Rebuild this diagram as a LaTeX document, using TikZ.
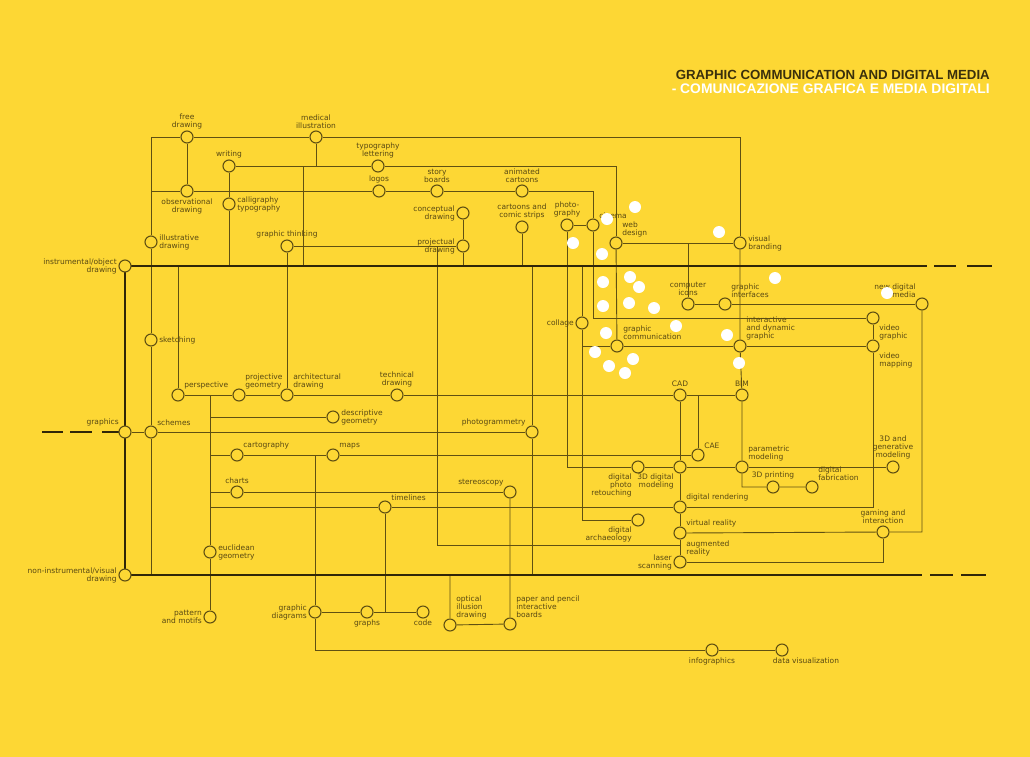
\documentclass[tikz,border=0pt]{standalone}
\usepackage{fontspec}
\setmainfont{DejaVu Sans}
\newfontfamily\titlefont{Liberation Sans}
\usetikzlibrary{backgrounds}
\definecolor{bgyellow}{RGB}{253,215,52}
\definecolor{lineol}{RGB}{96,80,18}
\definecolor{thickol}{RGB}{48,38,8}
\definecolor{labelol}{RGB}{88,72,18}
\definecolor{titleol}{RGB}{58,48,12}
\begin{document}
\begin{tikzpicture}[x=1pt,y=-1pt,
    stn/.style={circle,draw=lineol,fill=bgyellow,line width=1.1pt,minimum size=12pt,inner sep=0pt},
    ln/.style={draw=lineol,line width=0.9pt},
    thk/.style={draw=thickol,line width=2.6pt},
    every label/.style={font=\fontsize{7.5}{8}\selectfont,text=labelol,align=center,inner sep=1.5pt}]
    \useasboundingbox (0,0) rectangle (1030,756);
    % title
    \node[anchor=north east,inner sep=0pt,text=titleol,font=\titlefont\bfseries] (title) at (990,70) {\resizebox{314pt}{!}{GRAPHIC COMMUNICATION AND DIGITAL MEDIA}};
    \node[anchor=north east,inner sep=0pt,text=white,font=\titlefont\bfseries] (subtitle) at (990,84) {\resizebox{318pt}{!}{- COMUNICAZIONE GRAFICA E MEDIA DIGITALI}};
    % main stations
    \node[stn,label={[align=right]left:instrumental/object\\drawing}] (instr) at (125,266) {};
    \node[stn,label={above left:graphics}] (graph) at (125,432) {};
    \node[stn,label={[align=right]left:non-instrumental/visual\\drawing}] (nonin) at (125,575) {};
    % upper area
    \node[stn,label={above:free\\drawing}] (freed) at (187,137) {};
    \node[stn,label={above:medical\\illustration}] (medic) at (316,137) {};
    \node[stn,label={above:writing}] (writ) at (229,166) {};
    \node[stn,label={above:typography\\lettering}] (typo) at (378,166) {};
    \node[stn,label={below:observational\\drawing}] (obsd) at (187,191) {};
    \node[stn,label={above:logos}] (logos) at (379,191) {};
    \node[stn,label={above:story\\boards}] (story) at (437,191) {};
    \node[stn,label={above:animated\\cartoons}] (anim) at (522,191) {};
    \node[stn,label={[align=left]right:calligraphy\\typography}] (calli) at (229,204) {};
    \node[stn,label={[align=left]right:illustrative\\drawing}] (illus) at (151,242) {};
    \node[stn,label={above:graphic thinking}] (gthink) at (287,246) {};
    \node[stn,label={[align=right]left:conceptual\\drawing}] (techd) at (463,213) {};
    \node[stn,label={[align=right]left:projectual\\drawing}] (projd) at (463,246) {};
    \node[stn,label={above:cartoons and\\comic strips}] (comic) at (522,227) {};
    \node[stn,label={above:photo-\\graphy}] (photo) at (567,225) {};
    \node[stn,label={above right:cinema}] (cine) at (593,225) {};
    \node[stn,label={[align=left]above right:web\\design}] (web) at (616,243) {};
    \node[stn,label={[align=left]right:visual\\branding}] (brand) at (740,243) {};
    % digital area
    \node[stn,label={above:computer\\icons}] (icons) at (688,304) {};
    \node[stn,label={[align=left]above right:graphic\\interfaces}] (gui) at (725,304) {};
    \node[stn,label={[align=right]above left:new digital\\media}] (newdm) at (922,304) {};
    \node[stn,label={left:collage}] (collage) at (582,323) {};
    \node[stn,label={[align=left]above right:graphic\\communication}] (gcom) at (617,346) {};
    \node[stn,label={[align=left]above right:interactive\\and dynamic\\graphic}] (inter) at (740,346) {};
    \node[stn,label={[align=left]below right:video\\graphic}] (vgraph) at (873,318) {};
    \node[stn,label={[align=left]below right:video\\mapping}] (vmap) at (873,346) {};
    \node[stn,label={above:CAD}] (cad) at (680,395) {};
    \node[stn,label={above:BIM}] (bim) at (742,395) {};
    \node[stn,label={above right:CAE}] (cae) at (698,455) {};
    % geometry and graphics
    \node[stn,label={above right:perspective}] (persp) at (178,395) {};
    \node[stn,label={[align=left]above right:projective\\geometry}] (projg) at (239,395) {};
    \node[stn,label={[align=left]above right:architectural\\drawing}] (archd) at (287,395) {};
    \node[stn,label={above:technical\\drawing}] (techdr) at (397,395) {};
    \node[stn,label={[align=left]right:descriptive\\geometry}] (descg) at (333,417) {};
    \node[stn,label={above left:photogrammetry}] (photog) at (532,432) {};
    \node[stn,label={right:sketching}] (sketch) at (151,340) {};
    \node[stn,label={above right:schemes}] (schem) at (151,432) {};
    \node[stn,label={above right:cartography}] (carto) at (237,455) {};
    \node[stn,label={above right:maps}] (maps) at (333,455) {};
    \node[stn,label={above:charts}] (charts) at (237,492) {};
    \node[stn,label={above right:timelines}] (timel) at (385,507) {};
    \node[stn,label={above left:stereoscopy}] (stereo) at (510,492) {};
    \node[stn,label={[align=left]right:euclidean\\geometry}] (eucl) at (210,552) {};
    \node[stn,label={[align=right]left:pattern\\and motifs}] (patt) at (210,617) {};
    \node[stn,label={[align=right]left:graphic\\diagrams}] (gdiag) at (315,612) {};
    \node[stn,label={below:graphs}] (graphs) at (367,612) {};
    \node[stn,label={below:code}] (code) at (423,612) {};
    \node[stn,label={[align=left]above right:optical\\illusion\\drawing}] (optic) at (450,625) {};
    \node[stn,label={[align=left]above right:paper and pencil\\interactive\\boards}] (paper) at (510,624) {};
    \node[stn,label={below:infographics}] (infog) at (712,650) {};
    \node[stn,label={[xshift=24pt]below:data visualization}] (datav) at (782,650) {};
    % digital production
    \node[stn,label={[align=right]below left:digital\\photo\\retouching}] (dphoto) at (638,467) {};
    \node[stn,label={[align=right]below left:3D digital\\modeling}] (d3mod) at (680,467) {};
    \node[stn,label={[align=left]above right:parametric\\modeling}] (param) at (742,467) {};
    \node[stn,label={above:3D printing}] (print) at (773,487) {};
    \node[stn,label={[align=left]above right:digital\\fabrication}] (dfab) at (812,487) {};
    \node[stn,label={above:3D and\\generative\\modeling}] (gener) at (893,467) {};
    \node[stn,label={above right:digital rendering}] (drend) at (680,507) {};
    \node[stn,label={above right:virtual reality}] (virt) at (680,533) {};
    \node[stn,label={[align=left]above right:augmented\\reality},label={[align=right]left:laser\\scanning}] (augm) at (680,562) {};
    \node[stn,label={[align=right]below left:digital\\archaeology}] (darch) at (638,520) {};
    \node[stn,label={above:gaming and\\interaction}] (gaming) at (883,532) {};
    % free ends
    \coordinate (topR) at (927,266);
    \coordinate (topE) at (992,266);
    \coordinate (botR) at (922,575);
    \coordinate (botE) at (986,575);
    \coordinate (grL) at (42,432);
    \coordinate (v303) at (303,166);
    \coordinate (v437) at (437,246);
    \coordinate (c545) at (437,545);
    \begin{pgfonlayer}{background}
        \fill[bgyellow] (-20,-20) rectangle (1050,776);
        % thin lines
        \draw[ln] (illus |- freed) -- (freed) -- (medic) -| (brand);
        \draw[ln] (illus |- freed) -- (illus) -- (sketch) -- (schem) -- (schem |- nonin);
        \draw[ln] (medic) -- (medic |- writ);
        \draw[ln] (writ) -- (typo) -| (web);
        \draw[ln] (web) -- (gcom);
        \draw[ln] (writ) -- (calli) -- (calli |- instr);
        \draw[ln] (v303) -- (v303 |- instr);
        \draw[ln] (illus |- obsd) -- (obsd) -- (logos) -- (story) -- (anim) -| (cine);
        \draw[ln] (freed) -- (obsd);
        \draw[ln] (gthink) -- (projd);
        \draw[ln] (techd) -- (projd) -- (projd |- instr);
        \draw[ln] (gthink) -- (archd);
        \draw[ln] (comic) -- (comic |- instr);
        \draw[ln] (photo) -- (cine);
        \draw[ln] (photo) |- (dphoto) -- (d3mod) -- (param) -- (gener);
        \draw[ln] (cine) |- (vgraph);
        \draw[ln] (collage |- instr) -- (collage) |- (darch);
        \draw[ln] (collage |- gcom) -- (gcom) -- (inter) -- (vmap);
        \draw[ln] (web) -- (brand);
        \draw[ln] (icons |- web) -- (icons) -- (gui) -- (newdm);
        \draw[ln] (brand) -- (inter) -- (bim) -- (param) |- (print) -- (dfab);
        \draw[ln] (vgraph) -- (vmap) |- (drend);
        \draw[ln] (newdm) |- (gaming) -- (virt);
        \draw[ln] (gaming) |- (augm);
        \draw[ln] (persp |- instr) -- (persp) -- (projg) -- (archd) -- (techdr) -- (cad) -- (bim);
        \draw[ln] (cad) -- (d3mod) -- (drend) -- (virt) -- (augm);
        \draw[ln] (cae |- cad) -- (cae);
        \draw[ln] (graph) -- (schem) -- (photog);
        \draw[ln] (photog |- instr) -- (photog) -- (photog |- nonin);
        \draw[ln] (eucl |- persp) -- (eucl) -- (patt);
        \draw[ln] (eucl |- descg) -- (descg);
        \draw[ln] (eucl |- carto) -- (carto) -- (maps) -- (cae);
        \draw[ln] (eucl |- charts) -- (charts) -- (stereo);
        \draw[ln] (eucl |- timel) -- (timel) -- (drend);
        \draw[ln] (timel) -- (timel |- graphs);
        \draw[ln] (gdiag) -- (graphs) -- (code);
        \draw[ln] (gdiag |- maps) -- (gdiag) |- (infog) -- (datav);
        \draw[ln] (optic |- nonin) -- (optic) -- (paper) -- (stereo);
        \draw[ln] (v437) -- (c545) -- (c545 -| cad);
        % thick lines
        \draw[thk] (instr.center) -- (topR);
        \draw[thk] (instr.center) -- (nonin.center) -- (botR);
        \draw[thk,dash pattern=on 0pt off 7pt on 22pt off 11pt on 30pt] (topR) -- (topE);
        \draw[thk,dash pattern=on 0pt off 8pt on 23pt off 8pt on 30pt] (botR) -- (botE);
        \draw[thk,dash pattern=on 21pt off 7pt on 22pt off 10pt on 30pt] (grL) -- (graph.center);
    \end{pgfonlayer}
    % white dots
    \foreach \x/\y in {635/207,607/219,573/243,602/254,719/232,775/278,603/282,630/277,639/287,603/306,629/303,654/308,676/326,727/335,606/333,595/352,609/366,625/373,633/359,739/363,887/293}
        \fill[white] (\x,\y) circle (6pt);
\end{tikzpicture}
\end{document}
